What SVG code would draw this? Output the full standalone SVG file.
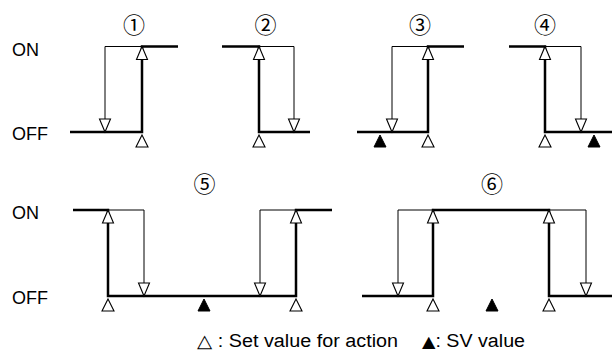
<svg xmlns="http://www.w3.org/2000/svg" width="612" height="352" viewBox="0 0 612 352">
<style>
.thick{stroke:#000;stroke-width:2.5;fill:none;stroke-linecap:butt}
.thin{stroke:#000;stroke-width:1;fill:none}
.open{fill:#fff;stroke:#000;stroke-width:1.1}
.solid{fill:#000;stroke:#000;stroke-width:1}
.lbl{font-family:"Liberation Sans",Arial,sans-serif;font-size:18px;fill:#000}
.num{font-family:"Noto Sans CJK JP","DejaVu Sans",sans-serif;font-size:22px;fill:#000;text-anchor:middle}
</style>
<defs>
<path id="up" d="M0,0 L5.5,13 L-5.5,13 Z"/>
<path id="dn" d="M0,0 L5.5,-13 L-5.5,-13 Z"/>
<path id="mk" d="M0,0 L6,12 L-6,12 Z"/>
</defs>
<g id="labels">
<text class="lbl" x="12" y="56">ON</text>
<text class="lbl" x="12" y="140">OFF</text>
<text class="lbl" x="12" y="219">ON</text>
<text class="lbl" x="12" y="304">OFF</text>
</g>
<g id="connectors">
<polyline class="thin" points="142,46.5 105,46.5 105,132"/>
<polyline class="thick" points="70,132 142,132 142,46.5 178,46.5"/>
<polyline class="thin" points="259,46.5 294,46.5 294,132"/>
<polyline class="thick" points="222,46.5 259,46.5 259,132 310,132"/>
<polyline class="thin" points="428,46.5 392,46.5 392,132"/>
<polyline class="thick" points="357,132 428,132 428,46.5 464,46.5"/>
<polyline class="thin" points="545,46.5 581,46.5 581,132"/>
<polyline class="thick" points="509,46.5 545,46.5 545,132 612,132"/>
<polyline class="thin" points="108,210 144,210 144,296"/>
<polyline class="thin" points="296,210 260,210 260,296"/>
<polyline class="thick" points="73,210 108,210 108,296 296,296 296,210 332,210"/>
<polyline class="thin" points="433,210 398,210 398,296"/>
<polyline class="thin" points="549,210 586,210 586,296"/>
<polyline class="thick" points="362,296 433,296 433,210 549,210 549,296 612,296"/>
</g>
<g id="panel1">
<text class="num" x="134" y="33">①</text>
<use href="#dn" class="open" x="105" y="132"/>
<use href="#up" class="open" x="142" y="46.5"/>
<use href="#mk" class="open" x="142" y="135"/>
</g>
<g id="panel2">
<text class="num" x="265.5" y="33">②</text>
<use href="#dn" class="open" x="294" y="132"/>
<use href="#up" class="open" x="259" y="46.5"/>
<use href="#mk" class="open" x="259" y="135"/>
</g>
<g id="panel3">
<text class="num" x="420" y="33">③</text>
<use href="#dn" class="open" x="392" y="132"/>
<use href="#up" class="open" x="428" y="46.5"/>
<use href="#mk" class="open" x="428" y="135"/>
<use href="#mk" class="solid" x="380" y="135"/>
</g>
<g id="panel4">
<text class="num" x="545" y="33">④</text>
<use href="#dn" class="open" x="581" y="132"/>
<use href="#up" class="open" x="545" y="46.5"/>
<use href="#mk" class="open" x="545" y="135"/>
<use href="#mk" class="solid" x="594" y="135"/>
</g>
<g id="panel5">
<text class="num" x="204.5" y="192">⑤</text>
<use href="#dn" class="open" x="144" y="296"/>
<use href="#dn" class="open" x="260" y="296"/>
<use href="#up" class="open" x="108" y="210"/>
<use href="#up" class="open" x="296" y="210"/>
<use href="#mk" class="open" x="108" y="299"/>
<use href="#mk" class="open" x="296" y="299"/>
<use href="#mk" class="solid" x="204" y="299"/>
</g>
<g id="panel6">
<text class="num" x="492" y="192">⑥</text>
<use href="#dn" class="open" x="398" y="296"/>
<use href="#dn" class="open" x="586" y="296"/>
<use href="#up" class="open" x="433" y="210"/>
<use href="#up" class="open" x="549" y="210"/>
<use href="#mk" class="open" x="433" y="299"/>
<use href="#mk" class="open" x="549" y="299"/>
<use href="#mk" class="solid" x="492" y="299"/>
</g>
<g id="legend">
<text class="lbl" x="197" y="347" textLength="201" lengthAdjust="spacingAndGlyphs">△ : Set value for action</text>
<text class="lbl" x="422" y="347" textLength="103" lengthAdjust="spacingAndGlyphs"><tspan font-family="'DejaVu Sans',sans-serif" font-size="16">▲</tspan>: SV value</text>
</g>
</svg>
